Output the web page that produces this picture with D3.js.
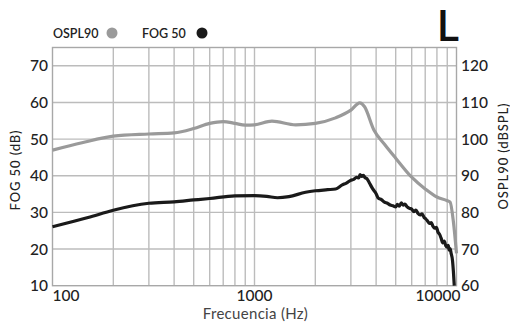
<!DOCTYPE html>
<html>
<head>
<meta charset="utf-8">
<script src="https://cdn.jsdelivr.net/npm/d3@7"></script>
<style>
  body { margin: 0; background: #fff; }
  svg { display: block; font-family: Lato, "Open Sans", sans-serif; }
</style>
</head>
<body>
<svg id="chart" width="510" height="323"></svg>
<script>
// Frequency (Hz) / level pairs
const osplFreq = [100, 140, 200, 300, 400, 500, 600, 700, 800, 900, 1000, 1220, 1600, 2000, 2520, 3000, 3320, 3500, 3900, 4400, 5000, 6000, 7000, 8000, 9000, 9300, 9650, 10000];
const osplVals = [97.0, 99.0, 100.8, 101.4, 101.7, 102.9, 104.3, 104.8, 104.3, 103.8, 103.9, 104.9, 103.9, 104.3, 105.8, 107.9, 109.9, 108.9, 102.5, 98.6, 94.8, 89.6, 86.4, 84.2, 83.2, 82.8, 77.5, 68.8];

const fogFreq = [100, 150, 200, 300, 400, 500, 600, 800, 1000, 1150, 1300, 1480, 1790, 2000, 2300, 2520, 2720, 2850, 3000, 3100, 3200, 3280, 3330, 3400, 3460, 3520, 3600, 3700, 3850, 4000, 4100, 4250, 4400, 4550, 4700, 4850, 5000, 5100, 5200, 5330, 5450, 5550, 5700, 5850, 6000, 6150, 6300, 6450, 6600, 6750, 6900, 7050, 7200, 7350, 7500, 7650, 7800, 7950, 8100, 8250, 8400, 8550, 8700, 8850, 9000, 9100, 9200, 9300, 9400, 9550, 9650, 9750];
const fogVals = [26.1, 28.6, 30.6, 32.5, 32.9, 33.4, 33.8, 34.5, 34.6, 34.4, 34.0, 34.3, 35.5, 35.9, 36.2, 36.4, 37.5, 38.0, 38.8, 39.0, 39.6, 39.4, 40.3, 39.8, 40.1, 39.5, 39.2, 38.1, 36.4, 35.1, 33.9, 33.5, 32.8, 32.5, 32.0, 31.8, 31.5, 32.2, 31.7, 32.6, 32.0, 32.3, 31.5, 31.1, 30.9, 30.2, 30.6, 29.7, 29.3, 29.6, 28.7, 28.2, 27.6, 27.0, 27.2, 26.2, 25.7, 25.9, 24.6, 24.0, 22.9, 21.7, 22.2, 20.9, 20.5, 21.0, 19.7, 20.1, 18.9, 17.0, 14.0, 10.0];

const leftTicks = [10, 20, 30, 40, 50, 60, 70];
const rightTicks = [60, 70, 80, 90, 100, 110, 120];
const xLabels = [100, 1000, 10000];
const xGrid = [200, 300, 400, 500, 600, 700, 800, 900, 1000, 2000, 3000, 4000, 5000, 6000, 7000, 8000, 9000];

const svg = d3.select('#chart');
const plot = { left: 52.5, right: 456.5, top: 47.5, bottom: 285.7 };

const x = d3.scaleLog().domain([100, 10000]).range([plot.left, plot.right]);
const yL = d3.scaleLinear().domain([10, 75]).range([plot.bottom, plot.top]);
const yR = d3.scaleLinear().domain([60, 125]).range([plot.bottom, plot.top]);

const gridColor = '#bcbcbc';

// Grid
svg.append('g').selectAll('line').data(xGrid).join('line')
    .attr('x1', d => x(d)).attr('x2', d => x(d))
    .attr('y1', plot.top).attr('y2', plot.bottom)
    .attr('stroke', gridColor).attr('stroke-width', 1.4);
svg.append('g').selectAll('line').data(leftTicks.slice(1)).join('line')
    .attr('x1', plot.left).attr('x2', plot.right)
    .attr('y1', d => yL(d)).attr('y2', d => yL(d))
    .attr('stroke', gridColor).attr('stroke-width', 1.4);
svg.append('rect')
    .attr('x', plot.left).attr('y', plot.top)
    .attr('width', plot.right - plot.left).attr('height', plot.bottom - plot.top)
    .attr('fill', 'none').attr('stroke', '#a8a8a8').attr('stroke-width', 1.4);

// Axes labels
svg.append('g').selectAll('text').data(leftTicks).join('text')
    .attr('x', 48).attr('y', d => yL(d) + 5.5)
    .attr('text-anchor', 'end').attr('font-size', 15.5).attr('font-weight', 500)
    .attr('fill', '#222').text(d => d);
svg.append('g').selectAll('text').data(rightTicks).join('text')
    .attr('x', 461).attr('y', d => yR(d) + 5.5)
    .attr('text-anchor', 'start').attr('font-size', 15.5).attr('font-weight', 500)
    .attr('fill', '#222').text(d => d);
svg.append('g').selectAll('text').data(xLabels).join('text')
    .attr('x', (d, i) => i === 0 ? plot.left : i === 2 ? plot.right + 4 : x(d))
    .attr('y', 301)
    .attr('text-anchor', (d, i) => i === 0 ? 'start' : i === 2 ? 'end' : 'middle')
    .attr('font-size', 15.5).attr('font-weight', 500).attr('fill', '#222')
    .text(d => d);

svg.append('text')
    .attr('x', 255.5).attr('y', 318.5)
    .attr('text-anchor', 'middle').attr('font-size', 15).attr('fill', '#444')
    .attr('letter-spacing', 0.3)
    .text('Frecuencia (Hz)');
svg.append('text')
    .attr('transform', 'translate(20, 170) rotate(-90)')
    .attr('text-anchor', 'middle').attr('font-size', 13).attr('font-weight', 500)
    .attr('letter-spacing', 0.9)
    .attr('fill', '#222').text('FOG 50 (dB)');
svg.append('text')
    .attr('transform', 'translate(507.5, 156) rotate(-90)')
    .attr('text-anchor', 'middle').attr('font-size', 13).attr('font-weight', 500)
    .attr('letter-spacing', 0.9)
    .attr('fill', '#222').text('OSPL90 (dBSPL)');

// Lines
const osplData = osplFreq.map((f, i) => ({ f, v: osplVals[i] }));
const fogData = fogFreq.map((f, i) => ({ f, v: fogVals[i] }));

svg.append('path').datum(osplData)
    .attr('fill', 'none').attr('stroke', '#9a9a9a').attr('stroke-width', 3.2)
    .attr('stroke-linejoin', 'round')
    .attr('d', d3.line().x(d => x(d.f)).y(d => yR(d.v)).curve(d3.curveMonotoneX));
svg.append('path').datum(fogData)
    .attr('fill', 'none').attr('stroke', '#1a1a1a').attr('stroke-width', 3.2)
    .attr('stroke-linejoin', 'round')
    .attr('d', d3.line().x(d => x(d.f)).y(d => yL(d.v)).curve(d3.curveMonotoneX));

// Legend
const legend = [
    { name: 'OSPL90', color: '#9a9a9a', x: 53, cx: 112 },
    { name: 'FOG 50', color: '#1a1a1a', x: 142, cx: 202 }
];
const lg = svg.append('g');
lg.selectAll('text').data(legend).join('text')
    .attr('x', d => d.x).attr('y', 37.5)
    .attr('font-size', 12.5).attr('font-weight', 600).attr('fill', '#222')
    .text(d => d.name);
lg.selectAll('circle').data(legend).join('circle')
    .attr('cx', d => d.cx).attr('cy', 33).attr('r', 5.5)
    .attr('fill', d => d.color);

// Big side letter
svg.append('text')
    .attr('x', 459).attr('y', 41)
    .attr('text-anchor', 'end').attr('font-size', 43).attr('font-weight', 600)
    .attr('fill', '#111').text('L');
</script>
</body>
</html>
